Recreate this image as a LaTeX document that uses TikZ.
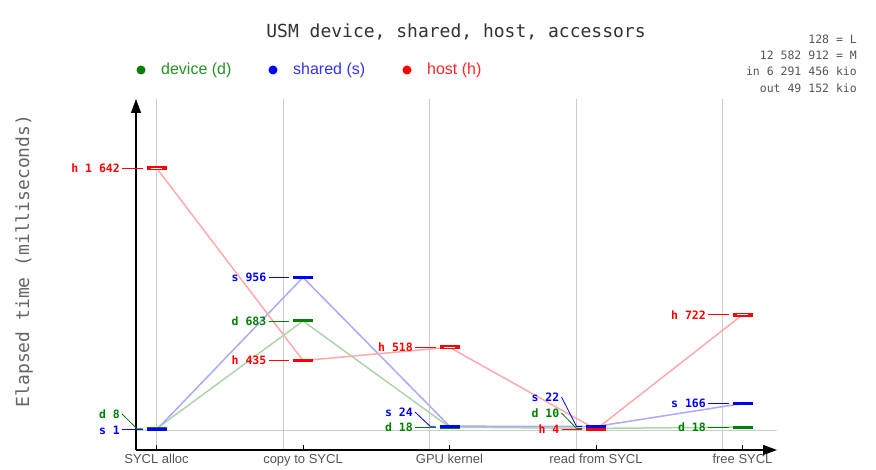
\documentclass[tikz,border=0pt]{standalone}
\usepackage{fontspec}
\setsansfont{Liberation Sans}
\newfontfamily\monof{DejaVu Sans Mono}
\usetikzlibrary{arrows.meta}
\definecolor{dgreen}{RGB}{0,128,0}
\definecolor{sblue}{RGB}{0,0,255}
\definecolor{hred}{RGB}{255,0,0}
\definecolor{lgreen}{RGB}{170,214,170}
\definecolor{lblue}{RGB}{170,170,255}
\definecolor{lred}{RGB}{255,170,170}
\definecolor{gridc}{RGB}{204,204,204}
\definecolor{txtgray}{RGB}{85,85,85}
\definecolor{titlegray}{RGB}{51,51,51}
\definecolor{ylabgray}{RGB}{102,102,102}
\begin{document}
\begin{tikzpicture}[x=1pt,y=-1pt,
  gridline/.style={draw=gridc,line width=1pt},
  axisline/.style={draw=black,line width=1.2pt},
  tickline/.style={draw=black,line width=1pt},
  dline/.style={line width=1.5pt},
  bar/.style={line width=3pt},
  hbar/.style={line width=4pt,draw=hred},
  lab/.style={font=\monof\bfseries\fontsize{11.5}{12}\selectfont,inner sep=0pt,anchor=east,text height=8.5pt,text depth=0pt},
  leader/.style={line width=0.8pt},
  cat/.style={font=\sffamily\fontsize{13}{14}\selectfont,text=txtgray,anchor=base,inner sep=0pt},
  legtext/.style={font=\sffamily\fontsize{16}{18}\selectfont,anchor=west,inner sep=0pt}
]
\useasboundingbox (0,0) rectangle (876,470);
\fill[white] (0,0) rectangle (876,470);

% title and info
\node[font=\monof\fontsize{18}{20}\selectfont,text=titlegray] (title) at (456,32) {USM device, shared, host, accessors};
\node[font=\monof\fontsize{18}{20}\selectfont,text=ylabgray,rotate=90] (ylab) at (24,261) {Elapsed time (milliseconds)};
\node[font=\monof\fontsize{11.5}{16.3}\selectfont,text=txtgray,align=right,anchor=north east,inner sep=0pt] (info) at (857,34.5) {128 = L\\12 582 912 = M\\in 6 291 456 kio\\out 49 152 kio};

% legend
\fill[dgreen] (141,70) circle (4.5);
\node[legtext,text=dgreen!85!white] (legd) at (161,70) {device (d)};
\fill[sblue] (273,70) circle (4.5);
\node[legtext,text=sblue!80!white] (legs) at (293,70) {shared (s)};
\fill[hred] (407,70) circle (4.5);
\node[legtext,text=hred!85!white] (legh) at (427,70) {host (h)};

% grid
\foreach \gx in {156.5,283,429.5,576.5,722.5}
  \draw[gridline] (\gx,99) -- (\gx,450);
\draw[gridline] (136,430) -- (777,430);

% axes
\coordinate (O) at (136,450);
\coordinate (Ytip) at (136,99);
\coordinate (Xtip) at (777,450);
\draw[axisline,-{Triangle[length=14pt,width=10pt]}] (O) -- (Ytip);
\draw[axisline,-{Triangle[length=14pt,width=10pt]}] (O) -- (Xtip);

% categories
\foreach \cx/\cl/\cn in {156.5/SYCL alloc/c1,303/copy to SYCL/c2,449.5/GPU kernel/c3,596/read from SYCL/c4,742.5/free SYCL/c5}{
  \draw[tickline] (\cx,445) -- (\cx,450);
  \node[cat] (\cn) at (\cx,463.5) {\cl};
}

% data points
\coordinate (d1) at (156.5,428.72);
\coordinate (d2) at (303,320.99);
\coordinate (d3) at (449.5,427.13);
\coordinate (d4) at (596,428.40);
\coordinate (d5) at (742.5,427.13);
\coordinate (s1) at (156.5,429.84);
\coordinate (s2) at (303,277.42);
\coordinate (s3) at (449.5,426.17);
\coordinate (s4) at (596,426.49);
\coordinate (s5) at (742.5,403.51);
\coordinate (h1) at (156.5,167.94);
\coordinate (h2) at (303,360.57);
\coordinate (h3) at (449.5,347.33);
\coordinate (h4) at (596,429.36);
\coordinate (h5) at (742.5,314.77);

% connecting lines
\draw[dline,lgreen] (d1) -- (d2) -- (d3) -- (d4) -- (d5);
\draw[dline,lblue] (s1) -- (s2) -- (s3) -- (s4) -- (s5);
\draw[dline,lred] (h1) -- (h2) -- (h3) -- (h4) -- (h5);

% bars
\foreach \p in {d1,d2,d3,d4,d5}
  \draw[bar,dgreen] ([xshift=-10pt]\p) -- ([xshift=10pt]\p);
\foreach \p in {s1,s2,s3,s4,s5}
  \draw[bar,sblue] ([xshift=-10pt]\p) -- ([xshift=10pt]\p);
\draw[bar,hred] ([xshift=-10pt]h2) -- ([xshift=10pt]h2);
\draw[bar,hred] ([xshift=-10pt]h4) -- ([xshift=10pt]h4);
\foreach \p in {h1,h3,h5}{
  \draw[hbar] ([xshift=-10pt]\p) -- ([xshift=10pt]\p);
  \draw[white,line width=0.8pt] ([xshift=-6pt]\p) -- ([xshift=5pt]\p);
}

% labels
\node[lab,text=hred] (lh1) at (120,167.94) {h 1 642};
\node[lab,text=dgreen] (ld1) at (120,414) {d 8};
\node[lab,text=sblue] (ls1) at (120,429.84) {s 1};
\node[lab,text=sblue] (ls2) at (266.5,277.42) {s 956};
\node[lab,text=dgreen] (ld2) at (266.5,320.99) {d 683};
\node[lab,text=hred] (lh2) at (266.5,360.57) {h 435};
\node[lab,text=sblue] (ls3) at (413,412) {s 24};
\node[lab,text=dgreen] (ld3) at (413,427.13) {d 18};
\node[lab,text=hred] (lh3) at (413,347.33) {h 518};
\node[lab,text=sblue] (ls4) at (559.5,397) {s 22};
\node[lab,text=dgreen] (ld4) at (559.5,413) {d 10};
\node[lab,text=hred] (lh4) at (559.5,429.36) {h 4};
\node[lab,text=sblue] (ls5) at (706,403.51) {s 166};
\node[lab,text=dgreen] (ld5) at (706,427.13) {d 18};
\node[lab,text=hred] (lh5) at (706,314.77) {h 722};

% leaders (straight)
\foreach \l/\p/\c in {lh1/h1/hred,ls1/s1/sblue,ls2/s2/sblue,ld2/d2/dgreen,lh2/h2/hred,ld3/d3/dgreen,lh3/h3/hred,lh4/h4/hred,ls5/s5/sblue,ld5/d5/dgreen,lh5/h5/hred}
  \draw[leader,\c] ([xshift=2pt]\l.east) -- ([xshift=-14pt]\p);
% leaders (bent)
\foreach \l/\p/\c in {ld1/d1/dgreen,ls3/s3/sblue,ls4/s4/sblue,ld4/d4/dgreen}
  \draw[leader,\c] ([xshift=2pt]\l.east) -- ([xshift=-19.5pt]\p) -- ([xshift=-14pt]\p);
\end{tikzpicture}
\end{document}
